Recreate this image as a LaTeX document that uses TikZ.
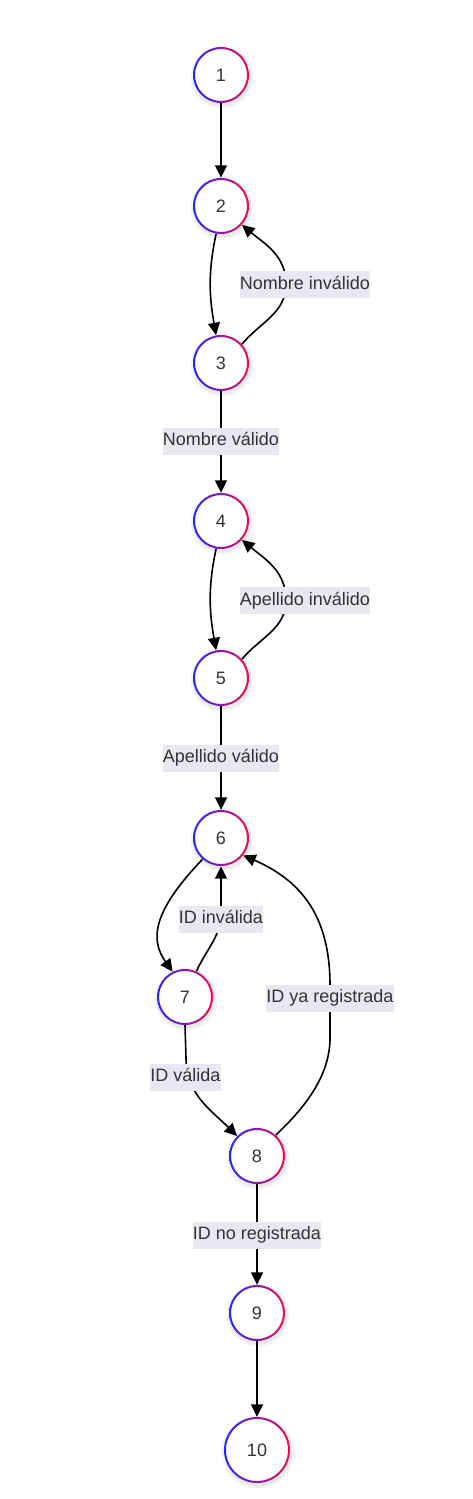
\documentclass[tikz,border=0pt]{standalone}
\usepackage{fontspec}
\setmainfont{Liberation Sans}
\usetikzlibrary{arrows.meta,calc}
\definecolor{ringblue}{RGB}{35,40,255}
\definecolor{ringred}{RGB}{245,10,80}
\definecolor{txt}{RGB}{51,51,51}
\definecolor{lblbg}{RGB}{232,232,242}
\tikzset{
  stc/.style={circle, inner sep=0pt, fill=white, text=txt, font=\fontsize{18}{18}\selectfont},
  lbl/.style={fill=lblbg, text=txt, inner xsep=0pt, inner ysep=0pt, minimum height=27pt,
    text height=13pt, text depth=4pt, font=\fontsize{18}{18}\selectfont},
  arr/.style={line width=1.6pt, -{Triangle[length=12.5pt,width=12pt]}},
}
\newcommand\stnode[4]{%
  \fill[black,opacity=0.04] (#2+1,#3+2) circle (#4pt+3.5pt);
  \fill[black,opacity=0.05] (#2+1,#3+2) circle (#4pt+1.5pt);
  \node[stc, minimum size=#4pt*2] (n#1) at (#2,#3) {#1};
  \shade[left color=ringblue,right color=ringred,even odd rule] (n#1.center) circle (#4pt) circle (#4pt-2pt);
}
\begin{document}
\begin{tikzpicture}[x=1pt,y=-1pt]
\useasboundingbox (0,0) rectangle (473,1499);
% states
\stnode{1}{221}{75}{28}
\stnode{2}{221}{206}{28}
\stnode{3}{221}{363}{28}
\stnode{4}{221}{521}{28}
\stnode{5}{221}{678}{28}
\stnode{6}{221}{838}{28}
\stnode{7}{185}{997}{28}
\stnode{8}{257}{1156}{28}
\stnode{9}{257}{1313}{28}
\stnode{10}{257}{1450}{33}
% helper coordinates
\coordinate (m32) at (286,284);
\coordinate (m54) at (286,600);
\coordinate (m76) at (221,912);
\coordinate (m78) at (186,1058);
\coordinate (m86a) at (330,1040);
\coordinate (m86b) at (330,985);
% connectors
\draw[arr] (n1) -- (n2);
\draw[arr] (n2.260) to[out=258,in=100] (n3.100);
\draw[arr] (n3.42) to[out=50,in=-90] (m32) to[out=90,in=-40] (n2.318);
\draw[arr] (n3) -- (n4);
\draw[arr] (n4.260) to[out=258,in=100] (n5.100);
\draw[arr] (n5.42) to[out=50,in=-90] (m54) to[out=90,in=-40] (n4.318);
\draw[arr] (n5) -- (n6);
\draw[arr] (n6.229) .. controls (152,912) and (150,940) .. (n7.116);
\draw[arr] (n7.66) to[out=66,in=-90] (m76) -- (n6.south);
\draw[arr] (n7.south) -- (m78) to[out=-90,in=135] (n8.135);
\draw[arr] (n8.48) .. controls (300,1112) and (329,1080) .. (m86a) -- (m86b)
  .. controls (330,915) and (300,880) .. (n6.322);
\draw[arr] (n8) -- (n9);
\draw[arr] (n9) -- (n10);
% labels
\node[lbl] (l32) at (305,284.5) {Nombre inválido};
\node[lbl] (l34) at (221,441) {Nombre válido};
\node[lbl] (l54) at (305,600.5) {Apellido inválido};
\node[lbl] (l56) at (221,758) {Apellido válido};
\node[lbl] (l76) at (221,919) {ID inválida};
\node[lbl] (l86) at (330,998) {ID ya registrada};
\node[lbl] (l78) at (185.5,1077) {ID válida};
\node[lbl] (l89) at (257,1235) {ID no registrada};
\end{tikzpicture}
\end{document}
